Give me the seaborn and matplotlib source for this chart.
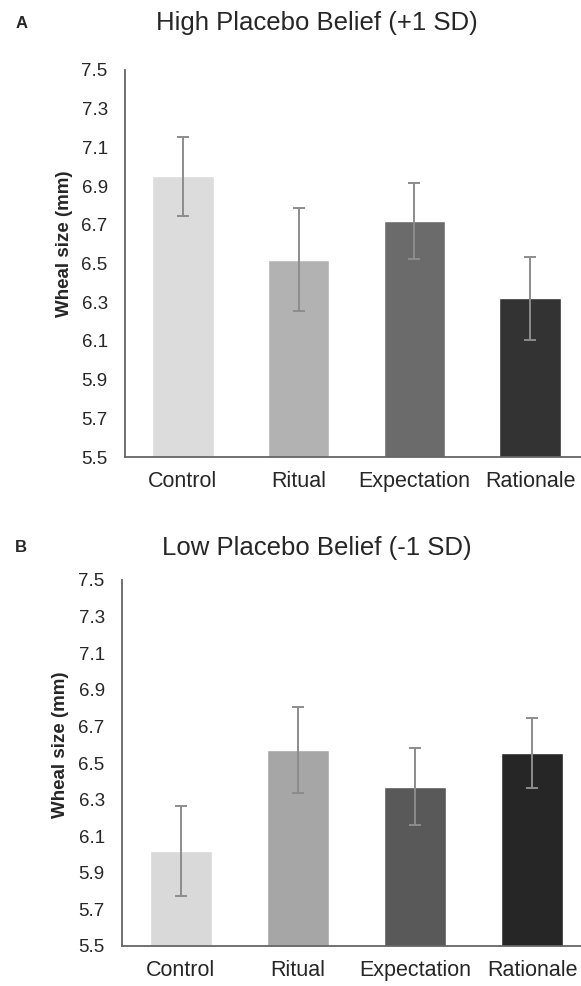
import pandas as pd
import seaborn as sns
import matplotlib.pyplot as plt

groups = ['Control', 'Ritual', 'Expectation', 'Rationale']

high_mean = [6.95, 6.52, 6.72, 6.32]
high_err = [0.205, 0.265, 0.195, 0.215]
high_colors = ['#dcdcdc', '#b2b2b2', '#6b6b6b', '#333333']

low_mean = [6.02, 6.57, 6.37, 6.555]
low_err = [0.245, 0.235, 0.21, 0.19]
low_colors = ['#d9d9d9', '#a6a6a6', '#595959', '#262626']

yticks = [5.5, 5.7, 5.9, 6.1, 6.3, 6.5, 6.7, 6.9, 7.1, 7.3, 7.5]

sns.set_theme(style='white')
plt.rcParams['font.family'] = ['Liberation Sans', 'DejaVu Sans']

fig = plt.figure(figsize=(5.81, 9.86), dpi=100)


def panel(rect, means, errs, colors, title, letter, title_y):
    ax = fig.add_axes(rect)
    df = pd.DataFrame({'group': groups, 'value': means})
    sns.barplot(data=df, x='group', y='value', hue='group', palette=colors,
                width=0.53, legend=False, ax=ax, saturation=1)
    ax.errorbar(range(len(groups)), means, yerr=errs, fmt='none',
                ecolor='#8c8c8c', elinewidth=1.4, capsize=4.5, capthick=1.4)
    ax.set_ylim(5.5, 7.5)
    ax.set_xlim(-0.5, 3.5)
    ax.set_yticks(yticks)
    ax.set_yticklabels([f'{t:.1f}' for t in yticks])
    ax.tick_params(axis='y', length=0, pad=12.5, labelsize=13.5, labelcolor='#262626')
    ax.tick_params(axis='x', length=0, pad=10, labelsize=15.5, labelcolor='#262626')
    ax.set_xlabel('')
    ax.set_ylabel('Wheal size (mm)', fontsize=13.5, fontweight='bold', color='#262626')
    ax.yaxis.set_label_coords(-0.113, 0.55)
    for s in ['top', 'right']:
        ax.spines[s].set_visible(False)
    for s in ['left', 'bottom']:
        ax.spines[s].set_color('#666666')
        ax.spines[s].set_linewidth(1.3)
    fig.text(0.545, title_y, title, ha='center', va='center', fontsize=18.5, color='#262626')
    fig.text(0.026, title_y, letter, ha='left', va='center', fontsize=12, fontweight='bold')
    return ax


panel([125 / 581, 1 - 457 / 986, 463 / 581, 387 / 986], high_mean, high_err,
      high_colors, 'High Placebo Belief (+1 SD)', 'A', 1 - 23 / 986)
panel([122 / 581, 1 - 946 / 986, 469 / 581, 366 / 986], low_mean, low_err,
      low_colors, 'Low Placebo Belief (-1 SD)', 'B', 1 - 548 / 986)

fig.savefig('out.png', dpi=100)
